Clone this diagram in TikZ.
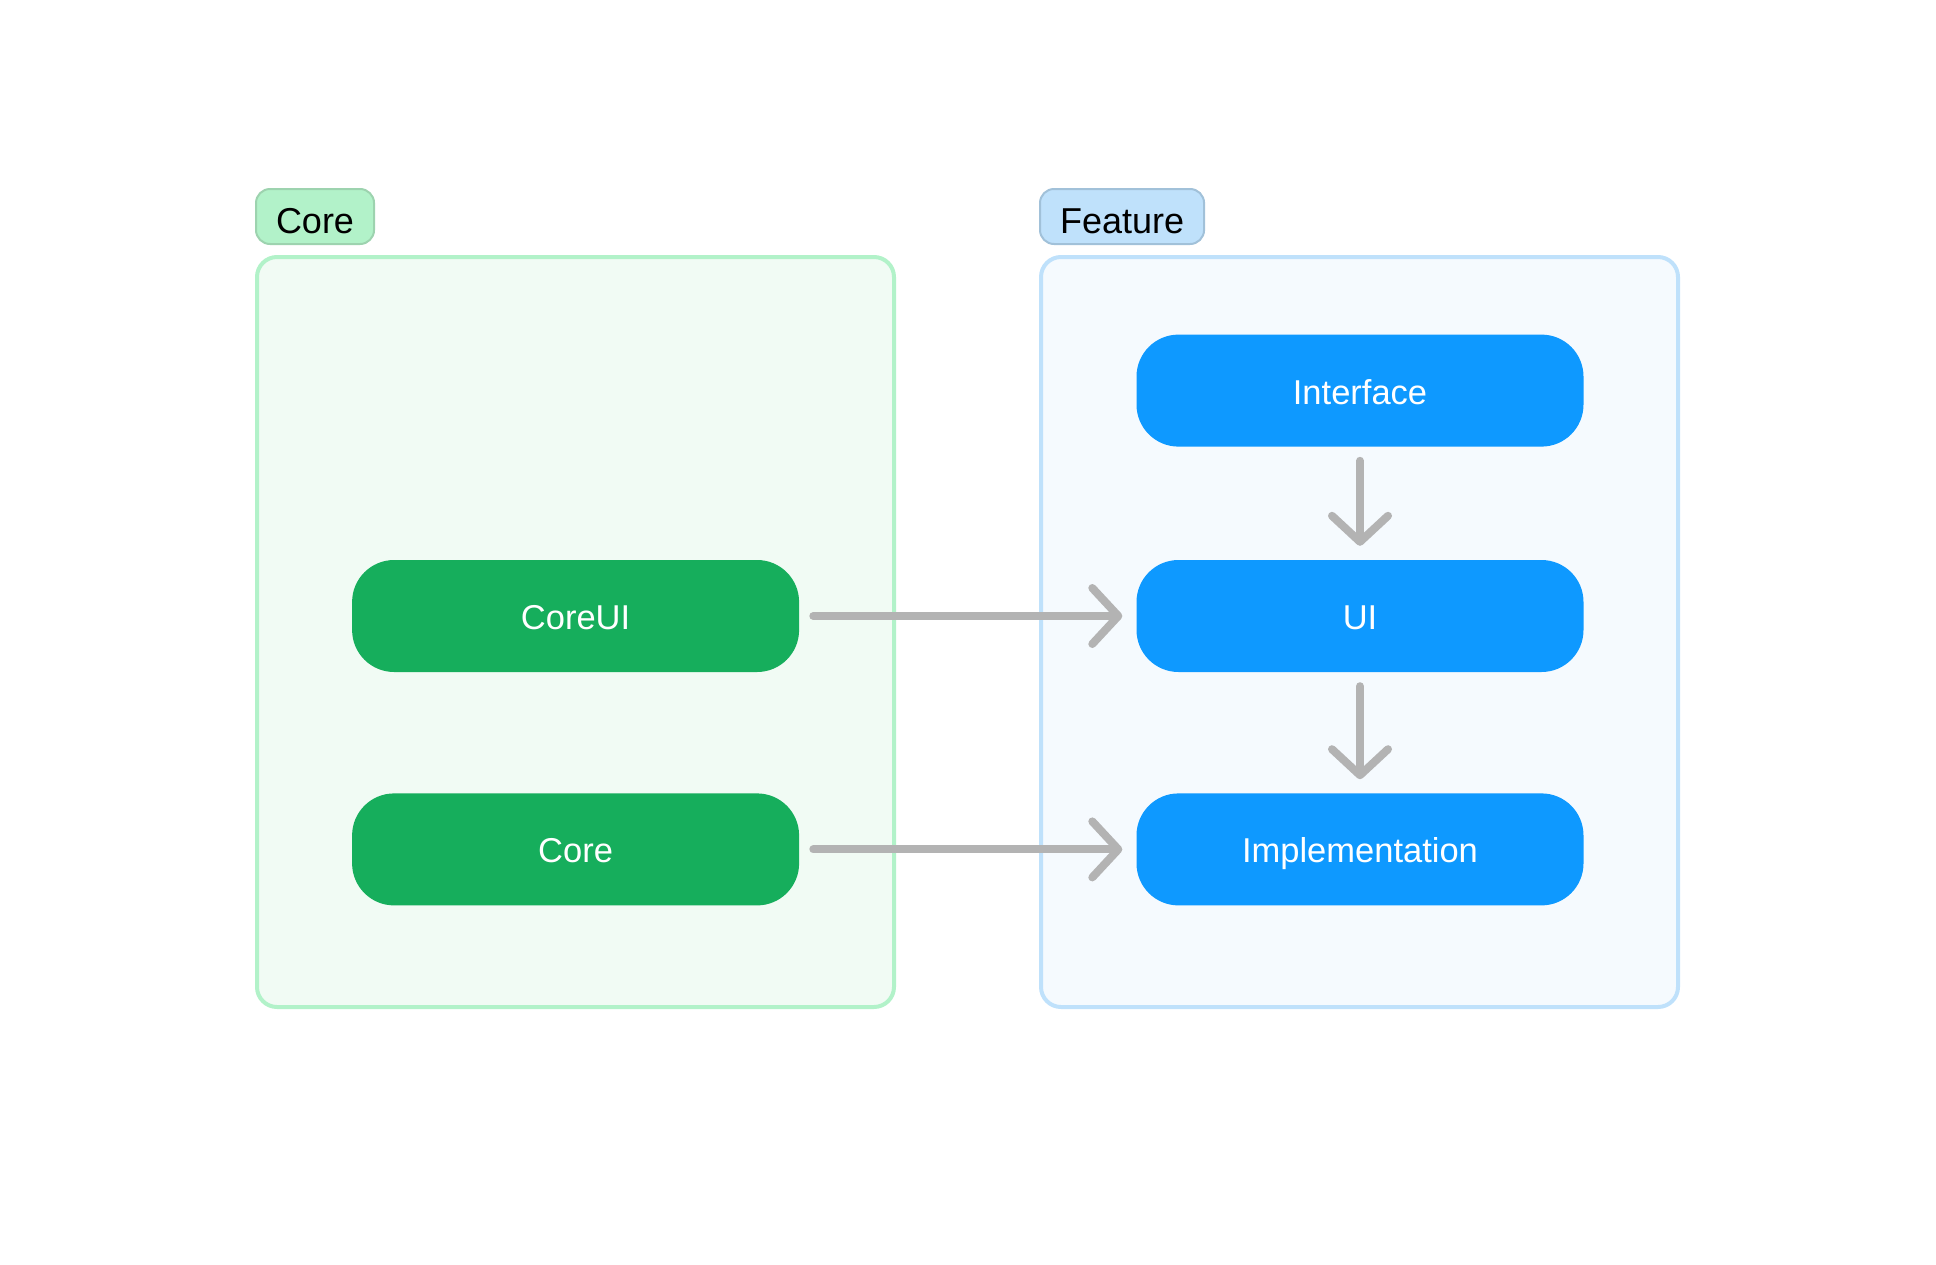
\documentclass[tikz,border=0pt]{standalone}
\usepackage{fontspec}
\setmainfont{Liberation Sans}
\usetikzlibrary{shapes.geometric, arrows.meta, positioning}
\definecolor{coregreen}{HTML}{16AE5C}
\definecolor{featureblue}{HTML}{0E99FF}
\definecolor{greenline}{HTML}{B2F2C9}
\definecolor{greenfill}{HTML}{F1FBF4}
\definecolor{greentag}{HTML}{9DD3AF}
\definecolor{blueline}{HTML}{BFE1FB}
\definecolor{bluefill}{HTML}{F5FAFE}
\definecolor{bluetag}{HTML}{A1C1D9}
\definecolor{arrowgray}{HTML}{B3B3B3}
\begin{document}
\begin{tikzpicture}[
        x=1pt, y=-1pt,
        node distance=113pt,
        group/.style={rectangle, draw, line width=4pt, rounded corners=20pt, minimum width=637pt, minimum height=750pt},
        tag/.style={rectangle, draw, line width=2pt, rounded corners=14pt, minimum height=55pt, inner xsep=20pt, text height=34pt, text depth=0pt, anchor=south west, font=\fontsize{36pt}{40pt}\selectfont},
        block/.style={rectangle, text=white, rounded corners=42pt, minimum width=447pt, minimum height=112pt, text height=27pt, text depth=0pt, font=\fontsize{34.5pt}{38pt}\selectfont},
        arrow/.style={line width=8pt, draw=arrowgray, line cap=round, shorten <=14pt, shorten >=14pt, -{Straight Barb[length=26pt, width=56pt, line cap=round, line join=round]}}
    ]
        \useasboundingbox (0,0) rectangle (1936,1264);
        \node[group, draw=greenline, fill=greenfill] (coregroup) at (575.5,632) {};
        \node[group, draw=blueline, fill=bluefill] (featuregroup) at (1359.5,632) {};
        \node[tag, draw=greentag, fill=greenline] (coretag) at ([yshift=10pt]coregroup.north west) {Core};
        \node[tag, draw=bluetag, fill=blueline] (featuretag) at ([yshift=10pt]featuregroup.north west) {Feature};

        \node[block, fill=featureblue] (ui) at (1360,616) {UI};
        \node[block, fill=featureblue, above=of ui] (interface) {Interface};
        \node[block, fill=featureblue, below=121pt of ui] (impl) {Implementation};
        \node[block, fill=coregreen, left=337pt of ui] (coreui) {CoreUI};
        \node[block, fill=coregreen, left=337pt of impl] (core) {Core};

        \draw[arrow] (interface) -- (ui);
        \draw[arrow] (ui) -- (impl);
        \draw[arrow] (coreui) -- (ui);
        \draw[arrow] (core) -- (impl);
    \end{tikzpicture}
\end{document}
